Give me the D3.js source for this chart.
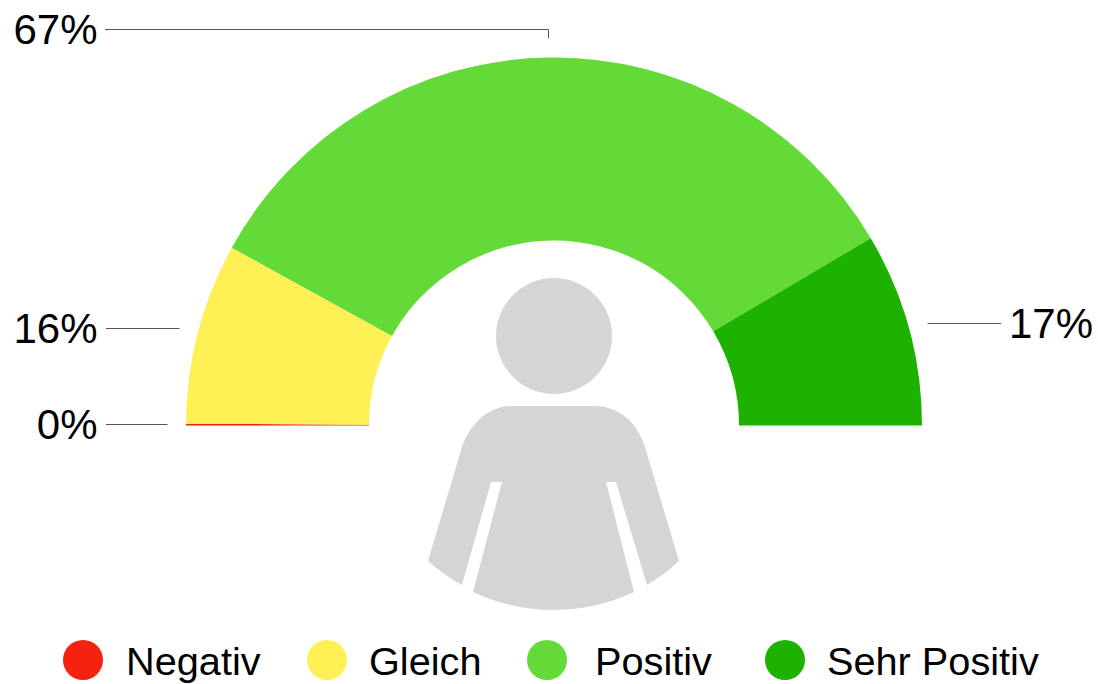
<!DOCTYPE html>
<html><head><meta charset="utf-8">
<script src="https://cdn.jsdelivr.net/npm/d3@7"></script>
<style>html,body{margin:0;background:#fff}svg{display:block}text{font-family:"Liberation Sans",Arial,sans-serif;fill:#000}</style>
</head><body><svg id="c" width="1098" height="684"></svg>
<script>
const categories=["Negativ","Gleich","Positiv","Sehr Positiv"];
const values=[0.15,15.9,66.95,17];
const colors=["#F4230F","#FFF056","#63DA38","#1DB100"];
const personColor="#D5D5D5";
const cx=554,cy=425.5,R=368,r=185,leadR=387;
const svg=d3.select("#c");
const color=d3.scaleOrdinal(categories,colors);
const legendSwatchX=d3.scaleOrdinal(categories,[83,327,547,785]);
const legendTextX=d3.scaleOrdinal(categories,[126,369,595,827]);
const pie=d3.pie().sort(null).startAngle(-Math.PI/2).endAngle(Math.PI/2).value(d=>d.v);
const arcs=pie(categories.map((c,i)=>({c,v:values[i]})));
const arc=d3.arc().innerRadius(r).outerRadius(R);
const g=svg.append("g").attr("transform",`translate(${cx},${cy})`);
g.selectAll("path.s").data(arcs).join("path").attr("class","s").attr("d",arc).attr("fill",d=>color(d.data.c));

// person icon
const p=svg.append("g").attr("fill",personColor);
p.append("circle").attr("cx",cx).attr("cy",336).attr("r",58);
p.append("path").attr("d","M512,406 L595,406 C620,406 638,424 645,447 L679,561 A190,190 0 0 1 647,585 L616,482 L606,482 L634,592 A190,190 0 0 1 473,592 L502,482 L491,482 L462,585 A190,190 0 0 1 428,561 L462,447 C470,424 488,406 512,406 Z");

// leaders and value labels
const fmt=v=>Math.round(v)+"%";
const leftEnd=106,rightEnd=1001,topY=29.5;
arcs.forEach(d=>{
  const a=(d.startAngle+d.endAngle)/2;
  const x=Math.floor(cx+leadR*Math.sin(a))+0.5,y=Math.floor(cy-leadR*Math.cos(a))+0.5;
  const right=a>0;
  const isTop=Math.abs(a)<0.2;
  const ly=isTop?topY:y;
  const pts=isTop?[[x,y],[x,ly],[leftEnd-1,ly]]:[[x,y],[right?rightEnd:leftEnd,y]];
  svg.append("path").attr("d",d3.line()(pts)).attr("fill","none").attr("stroke","#555").attr("stroke-width",1);
  svg.append("text").attr("x",right?rightEnd+8:leftEnd-8.5).attr("y",ly+14.5)
    .attr("text-anchor",right?"start":"end").attr("font-size",42).text(fmt(d.value));
});

// legend
categories.forEach(c=>{
  svg.append("circle").attr("cx",legendSwatchX(c)).attr("cy",660).attr("r",20).attr("fill",color(c));
  svg.append("text").attr("x",legendTextX(c)).attr("y",675).attr("font-size",39.7).text(c);
});
</script></body></html>
